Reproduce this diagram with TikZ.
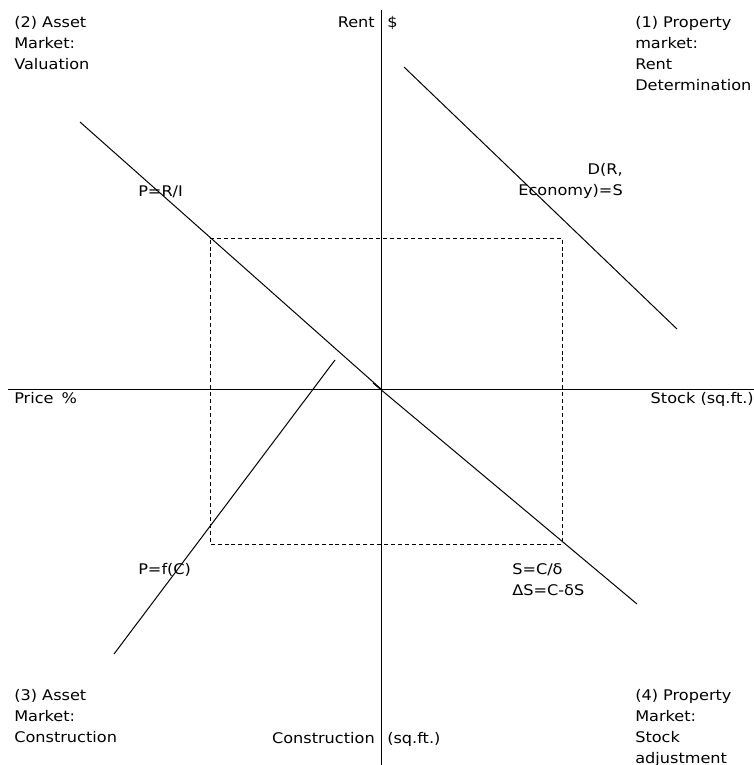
\documentclass[tikz,border=0pt]{standalone}
\usepackage{fontspec}
\setmainfont[FakeStretch=1.1]{DejaVu Sans}
\begin{document}
\begin{tikzpicture}[x=0.75pt,y=-0.75pt,
  lbl/.style={inner sep=0pt,font=\fontsize{11}{15.75}\selectfont},
  curve/.style={line width=0.75pt,black},
  axis/.style={line width=0.75pt,black},
  guide/.style={line width=0.7pt,dash pattern=on 3pt off 2.2pt}]
\useasboundingbox (0,0) rectangle (754,765);
% axes
\coordinate (vtop) at (381,10);
\coordinate (vbot) at (381,765);
\coordinate (hl) at (8,389);
\coordinate (hr) at (754,389);
\draw[axis] (vtop) -- (vbot);
\draw[axis] (hl) -- (hr);
% dashed rectangle
\coordinate (r1) at (210,238);
\coordinate (r2) at (562,238);
\coordinate (r3) at (562,544);
\coordinate (r4) at (210,544);
\draw[guide] (r1) -- (r2) -- (r3) -- (r4) -- cycle;
% curves
\coordinate (d1) at (404,67);
\coordinate (d2) at (677,329);
\draw[curve] (d1) -- (d2);
\coordinate (p1) at (80,122);
\coordinate (p2) at (381,389);
\draw[curve] (p1) -- (p2);
\coordinate (s1) at (373,383);
\coordinate (s2) at (637,604);
\draw[curve] (s1) -- (s2);
\coordinate (c1) at (114,654);
\coordinate (c2) at (335,360);
\draw[curve] (c1) -- (c2);
% axis labels
\node[lbl,anchor=base east] (rent) at (375,27) {Rent};
\node[lbl,anchor=base west] (dollar) at (387,27) {\$};
\node[lbl,anchor=base west] (price) at (14,403) {Price\hspace{6pt}\%};
\node[lbl,anchor=base east] (stock) at (754,403) {Stock (sq.ft.)};
\node[lbl,anchor=base east] (constr) at (375,743) {Construction};
\node[lbl,anchor=base west] (sqft) at (387,743) {(sq.ft.)};
% quadrant labels
\node[lbl,anchor=north west,align=left] (q2) at (14,16) {(2) Asset\\Market:\\Valuation};
\node[lbl,anchor=north west,align=left] (q1) at (635,16) {(1) Property\\market:\\Rent\\Determination};
\node[lbl,anchor=north west,align=left] (q3) at (14,689) {(3) Asset\\Market:\\Construction};
\node[lbl,anchor=north west,align=left] (q4) at (635,689) {(4) Property\\Market:\\Stock\\adjustment};
% curve labels
\node[lbl,anchor=north east,align=right] (dlab) at (623,163) {D(R,\\Economy)=S};
\node[lbl,anchor=base west] (prl) at (138,196) {P=R/I};
\node[lbl,anchor=base west] (pfc) at (138,574) {P=f(C)};
\node[lbl,anchor=north west,align=left] (slab) at (512,563) {S=C/δ\\ΔS=C-δS};
\end{tikzpicture}
\end{document}
